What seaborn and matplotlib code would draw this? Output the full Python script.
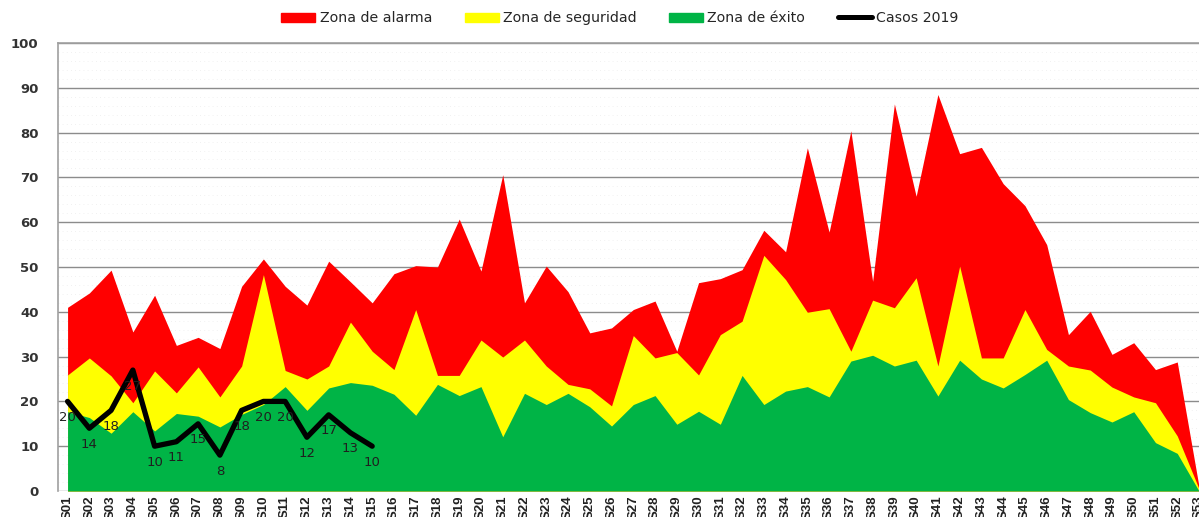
import matplotlib
matplotlib.use("Agg")
import matplotlib.pyplot as plt
import seaborn as sns
import numpy as np
import pandas as pd
from matplotlib.patches import Patch
from matplotlib.lines import Line2D

weeks = [f"S{i:02d}" for i in range(1, 54)]

alarma = [41, 44.2, 49.3, 35.5, 43.7, 32.5, 34.3, 31.8, 45.7, 51.8,
          45.7, 41.5, 51.3, 46.7, 42, 48.5, 50.3, 50, 60.7, 49.1,
          70.6, 42, 50.2, 44.5, 35.3, 36.4, 40.5, 42.4, 31.2, 46.5,
          47.4, 49.4, 58.2, 53.4, 76.6, 57.8, 80.4, 46.8, 86.4, 65.8,
          88.5, 75.3, 76.7, 68.6, 63.7, 55, 34.9, 40.1, 30.5, 33.1,
          27.1, 28.8, 1]

seguridad = [25.9, 29.7, 25.7, 19.7, 26.8, 21.9, 27.7, 21, 27.9, 48.3,
             26.9, 25, 27.9, 37.7, 31.2, 27.1, 40.5, 25.8, 25.8, 33.7,
             29.9, 33.7, 27.9, 23.8, 22.8, 19, 34.7, 29.7, 30.9, 25.9,
             34.9, 37.9, 52.6, 47.2, 39.9, 40.7, 31.2, 42.6, 40.9, 47.6,
             27.9, 50.2, 29.7, 29.7, 40.5, 31.6, 27.9, 27, 23.2, 21,
             19.7, 12.3, 0.5]

exito = [17.7, 16.4, 12.9, 17.7, 13.4, 17.3, 16.7, 14.3, 17.1, 19.3,
         23.3, 18, 23, 24.2, 23.6, 21.6, 16.9, 23.8, 21.3, 23.3,
         12.1, 21.8, 19.3, 21.8, 18.8, 14.5, 19.3, 21.3, 14.9, 17.8,
         14.9, 25.8, 19.3, 22.3, 23.3, 21, 29, 30.3, 27.9, 29.2,
         21.2, 29.2, 25, 23, 26, 29.2, 20.4, 17.5, 15.4, 17.7,
         10.8, 8.4, 0]

casos_2019 = [20, 14, 18, 27, 10, 11, 15, 8, 18, 20, 20, 12, 17, 13, 10]

sns.set_style("white")
plt.rcParams['font.family'] = ['DejaVu Sans']

W, H = 1199, 517
fig = plt.figure(figsize=(W / 100, H / 100), dpi=100)
ax = fig.add_axes([58 / W, 1 - 491 / H, (W - 58) / W, (491 - 43) / H])

x = np.arange(len(weeks))
ax.fill_between(x, 0, alarma, color="#FF0000", linewidth=0, zorder=2)
ax.fill_between(x, 0, seguridad, color="#FFFF00", linewidth=0, zorder=3)
ax.fill_between(x, 0, exito, color="#00B446", linewidth=0, zorder=4)

df = pd.DataFrame({"x": np.arange(len(casos_2019)), "y": casos_2019})
sns.lineplot(data=df, x="x", y="y", ax=ax, color="black", linewidth=3.8,
             zorder=6, legend=False)
for xi, yi in zip(df["x"], df["y"]):
    ax.annotate(str(yi), (xi, yi), xytext=(0, -11.5), textcoords="offset points",
                ha="center", va="center", fontsize=9.5, color="#1f1f1f", zorder=7)

ax.set_xlim(-0.44, 52.0)
ax.set_ylim(0, 100)
ax.set_yticks(range(0, 101, 10))
ax.set_xticks(x)
ax.set_xticklabels(weeks, rotation=90, fontsize=9.5, fontweight="bold",
                   family="Liberation Sans", color="#222222")
for lbl in ax.get_yticklabels():
    lbl.set_fontweight("bold")
    lbl.set_fontsize(9.5)
    lbl.set_color("#333333")
ax.tick_params(axis="y", length=0, pad=14)
ax.tick_params(axis="x", length=0, pad=3)
ax.set_xlabel("")
ax.set_ylabel("")

ax.yaxis.grid(True, color="#8c8c8c", linewidth=1.0, zorder=1)
ax.set_yticks(np.arange(0, 100, 2), minor=True)
ax.yaxis.grid(True, which="minor", color="#ececec", linewidth=0.6,
              linestyle=(0, (1, 4)), zorder=0)
ax.set_axisbelow(True)
for s in ["right", "bottom"]:
    ax.spines[s].set_visible(False)
ax.spines["left"].set_color("#a0a0a0")
ax.spines["left"].set_linewidth(1.2)
ax.spines["top"].set_color("#a0a0a0")
ax.spines["top"].set_linewidth(1.2)

handles = [Patch(color="#FF0000"), Patch(color="#FFFF00"), Patch(color="#00B446"),
           Line2D([0], [0], color="black", linewidth=3.6)]
labels = ["Zona de alarma", "Zona de seguridad", "Zona de éxito", "Casos 2019"]
fig.legend(handles, labels, loc="center", bbox_to_anchor=(0.517, 1 - 18 / H),
           ncol=4, frameon=False, handlelength=2.4, handleheight=0.6,
           handletextpad=0.3, columnspacing=2.3, prop={"weight": "normal", "size": 10.2})

fig.savefig("out.png", dpi=100)
